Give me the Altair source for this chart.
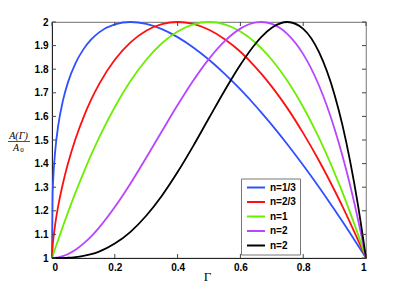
import altair as alt
import pandas as pd

gamma = [0, 0.002, 0.005, 0.01, 0.02, 0.035, 0.05, 0.075, 0.1, 0.125, 0.15, 0.2, 0.25, 0.3, 0.35,
         0.4, 0.45, 0.5, 0.55, 0.6, 0.65, 0.667, 0.7, 0.75, 0.8, 0.85, 0.9, 0.925, 0.95, 0.975, 1.0]

n13 = [1.000, 1.266, 1.360, 1.451, 1.563, 1.668, 1.741, 1.826, 1.884, 1.926, 1.956, 1.990, 2.000, 1.992, 1.970,
       1.936, 1.892, 1.840, 1.780, 1.714, 1.642, 1.616, 1.564, 1.481, 1.393, 1.301, 1.204, 1.155, 1.104, 1.052, 1.000]
n23 = [1.000, 1.049, 1.089, 1.141, 1.222, 1.317, 1.396, 1.505, 1.595, 1.672, 1.737, 1.840, 1.914, 1.963, 1.991,
       2.000, 1.992, 1.967, 1.927, 1.874, 1.806, 1.780, 1.726, 1.634, 1.529, 1.413, 1.286, 1.219, 1.148, 1.075, 1.000]
n1 = [1.000, 1.008, 1.020, 1.040, 1.078, 1.135, 1.190, 1.278, 1.360, 1.438, 1.510, 1.640, 1.750, 1.840, 1.910,
      1.960, 1.990, 2.000, 1.990, 1.960, 1.910, 1.888, 1.840, 1.750, 1.640, 1.510, 1.360, 1.278, 1.190, 1.098, 1.000]
n2 = [1.000, 1.000, 1.000, 1.001, 1.003, 1.008, 1.016, 1.035, 1.061, 1.092, 1.129, 1.216, 1.316, 1.425, 1.537,
      1.648, 1.752, 1.844, 1.919, 1.972, 1.998, 2.000, 1.992, 1.949, 1.864, 1.732, 1.547, 1.433, 1.305, 1.160, 1.000]
n3 = [1.000, 1.000, 1.000, 1.000, 1.000, 1.000, 1.001, 1.004, 1.009, 1.016, 1.027, 1.061, 1.111, 1.179, 1.264,
      1.364, 1.475, 1.593, 1.710, 1.819, 1.911, 1.937, 1.976, 2.000, 1.971, 1.873, 1.691, 1.563, 1.406, 1.220, 1.000]

series_keys = ["n=1/3", "n=2/3", "n=1", "n=2", "n=3"]
legend_labels = ["n=1/3", "n=2/3", "n=1", "n=2", "n=2"]
colors = ["#2f50ff", "#ff1010", "#6cee00", "#b845ff", "#000000"]
series_values = [n13, n23, n1, n2, n3]

x_ticks = [0, 0.2, 0.4, 0.6, 0.8, 1.0]
y_ticks = [1.0, 1.1, 1.2, 1.3, 1.4, 1.5, 1.6, 1.7, 1.8, 1.9, 2.0]

rows = []
for k, key in enumerate(series_keys):
    for i, g in enumerate(gamma):
        rows.append({"G": g, "A": series_values[k][i], "s": key, "o": k})
df = pd.DataFrame(rows)

W, H = 314, 236

label_expr = "{" + ",".join(f"'{k}':'{l}'" for k, l in zip(series_keys, legend_labels)) + "}[datum.label]"

xscale = alt.Scale(domain=[0, 1], nice=False, zero=False)
yscale = alt.Scale(domain=[1, 2], nice=False, zero=False)

xaxis = alt.Axis(values=x_ticks, format=".1~f", grid=False, ticks=False, labelOverlap=False,
                 labelFont="Liberation Sans", labelFontWeight="bold", labelFontSize=10,
                 labelColor="black", labelPadding=4, domainColor="#222", domainWidth=1)
yaxis = alt.Axis(values=y_ticks, format=".1~f", grid=False, ticks=False, labelOverlap=False,
                 labelFont="Liberation Sans", labelFontWeight="bold", labelFontSize=10,
                 labelColor="black", labelPadding=4, domainColor="#222", domainWidth=1)

lines = alt.Chart(df).mark_line(strokeWidth=1.8, interpolate="monotone").encode(
    x=alt.X("G:Q", scale=xscale, title=None, axis=xaxis),
    y=alt.Y("A:Q", scale=yscale, title=None, axis=yaxis),
    color=alt.Color("s:N", scale=alt.Scale(domain=series_keys, range=colors),
                    legend=alt.Legend(orient="none", legendX=189, legendY=156.5, title=None,
                                      symbolType="M-0.667,0H3.333", symbolSize=81, symbolStrokeWidth=2,
                                      labelFont="Liberation Sans", labelFontWeight="bold",
                                      labelFontSize=10, labelColor="black", labelOffset=14.5,
                                      strokeColor="#777", fillColor="white", padding=3.5,
                                      rowPadding=3.5, labelExpr=label_expr)),
    order="o:Q",
)

xt = pd.DataFrame({"G": x_ticks})
yt = pd.DataFrame({"A": y_ticks})
tick_color = "#444"
bottom_ticks = alt.Chart(xt).mark_rule(color=tick_color, strokeWidth=1).encode(
    x=alt.X("G:Q", scale=xscale, title=None, axis=xaxis), y=alt.value(H), y2=alt.value(H - 4))
top_ticks = alt.Chart(xt).mark_rule(color=tick_color, strokeWidth=1).encode(
    x=alt.X("G:Q", scale=xscale, title=None, axis=xaxis), y=alt.value(0), y2=alt.value(4))
left_ticks = alt.Chart(yt).mark_rule(color=tick_color, strokeWidth=1).encode(
    y=alt.Y("A:Q", scale=yscale, title=None, axis=yaxis), x=alt.value(0), x2=alt.value(4))
right_ticks = alt.Chart(yt).mark_rule(color=tick_color, strokeWidth=1).encode(
    y=alt.Y("A:Q", scale=yscale, title=None, axis=yaxis), x=alt.value(W), x2=alt.value(W - 4))

xtitle = alt.Chart(pd.DataFrame({"t": ["Γ"]})).mark_text(
    font="Liberation Serif", fontSize=13, color="black", align="center", baseline="middle"
).encode(text="t:N", x=alt.value(155.5), y=alt.value(254.5))

num = alt.Chart(pd.DataFrame({"t": ["A(Γ)"]})).mark_text(
    font="Liberation Serif", fontStyle="italic", fontSize=10, color="black", align="center", baseline="middle"
).encode(text="t:N", x=alt.value(-33.5), y=alt.value(113.5))
frac = alt.Chart(pd.DataFrame({"t": ["-"]})).mark_rule(color="#222", strokeWidth=0.8).encode(
    x=alt.value(-45), x2=alt.value(-22), y=alt.value(119.5))
den = alt.Chart(pd.DataFrame({"t": ["A"]})).mark_text(
    font="Liberation Serif", fontStyle="italic", fontSize=10, color="black", align="center", baseline="middle"
).encode(text="t:N", x=alt.value(-36), y=alt.value(125.5))
den_sub = alt.Chart(pd.DataFrame({"t": ["0"]})).mark_text(
    font="Liberation Serif", fontSize=7, color="black", align="center", baseline="middle"
).encode(text="t:N", x=alt.value(-30), y=alt.value(128))

chart = alt.layer(
    lines, bottom_ticks, top_ticks, left_ticks, right_ticks, xtitle, num, frac, den, den_sub
).properties(
    width=W, height=H,
    padding={"left": 44, "top": 14, "right": 27, "bottom": 25},
    autosize=alt.AutoSizeParams(type="none"),
    background="white",
).configure_view(stroke="#8c8c8c", strokeWidth=1.2)

chart.save("out.html", embed_options={"renderer": "svg", "actions": False})
